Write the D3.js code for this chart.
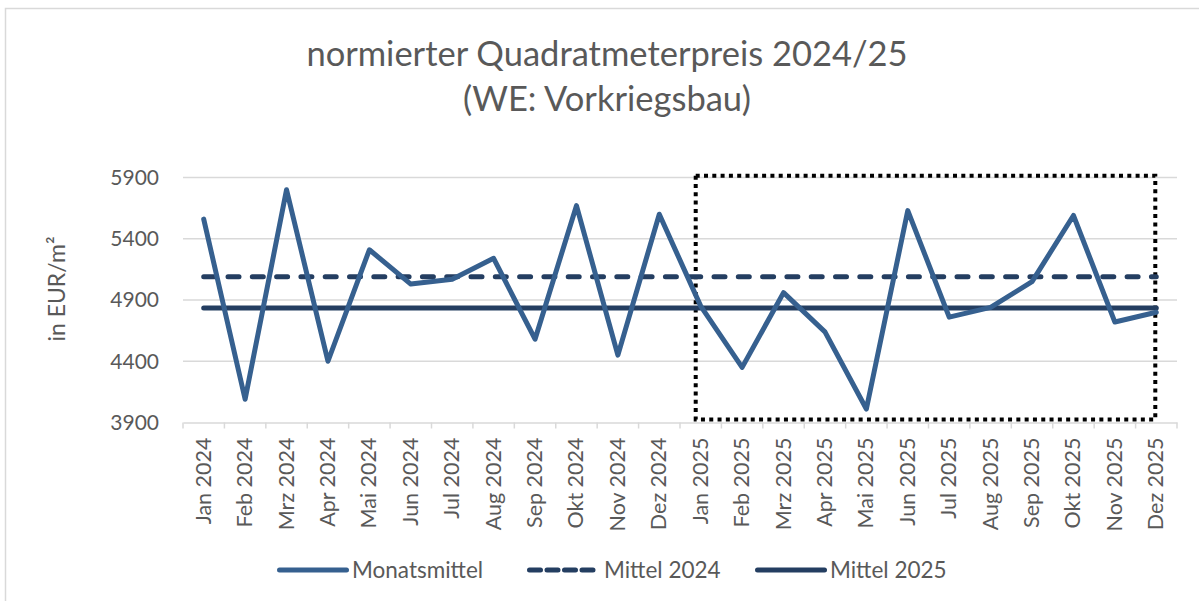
<!DOCTYPE html>
<html>
<head>
<meta charset="utf-8">
<script src="https://cdn.jsdelivr.net/npm/d3@7"></script>
<style>
    body { margin: 0; background: #fff; }
    text { font-family: Lato, "Open Sans", sans-serif; fill: #595959; }
</style>
</head>
<body>
<div class="chart-container"></div>
<script>
// Data
const months = [
    'Jan 2024', 'Feb 2024', 'Mrz 2024', 'Apr 2024', 'Mai 2024', 'Jun 2024',
    'Jul 2024', 'Aug 2024', 'Sep 2024', 'Okt 2024', 'Nov 2024', 'Dez 2024',
    'Jan 2025', 'Feb 2025', 'Mrz 2025', 'Apr 2025', 'Mai 2025', 'Jun 2025',
    'Jul 2025', 'Aug 2025', 'Sep 2025', 'Okt 2025', 'Nov 2025', 'Dez 2025'
];
const monatsmittel = [
    5560, 4090, 5800, 4400, 5310, 5030, 5070, 5240, 4580, 5670, 4450, 5600,
    4850, 4350, 4960, 4640, 4010, 5630, 4760, 4840, 5050, 5590, 4720, 4800
];
const mittel2024 = 5090;
const mittel2025 = 4835;
const yTicks = [3900, 4400, 4900, 5400, 5900];
const highlight = ['Jan 2025', 'Dez 2025', 5915, 3925];

const titleLines = ['normierter Quadratmeterpreis 2024/25', '(WE: Vorkriegsbau)'];
const legendItems = ['Monatsmittel', 'Mittel 2024', 'Mittel 2025'];

function buildChart() {
    const width = 1199;
    const height = 601;
    const margin = {top: 177.5, right: 22, bottom: 178.5, left: 183};

    const lineColor = '#36608f';
    const meanColor = '#243e61';

    const svg = d3
        .select('.chart-container')
        .append('svg')
        .attr('width', width)
        .attr('height', height);

    // Chart frame.
    svg.append('rect')
        .attr('x', 5.5)
        .attr('y', 8.5)
        .attr('width', width)
        .attr('height', height)
        .attr('fill', 'none')
        .attr('stroke', '#d9d9d9')
        .attr('stroke-width', 1.5);

    // Build scales.
    const x = d3.scaleBand()
        .domain(months)
        .range([margin.left, width - margin.right]);

    const y = d3.scaleLinear()
        .domain([3900, 5900])
        .range([height - margin.bottom, margin.top]);

    const cx = d => x(d) + x.bandwidth() / 2;

    // Title.
    svg.append('g')
        .selectAll('text')
        .data(titleLines)
        .join('text')
        .attr('x', 607)
        .attr('y', (d, i) => 66 + i * 45)
        .attr('text-anchor', 'middle')
        .attr('font-size', 34.5)
        .text(d => d);

    // Gridlines.
    svg.append('g')
        .selectAll('line')
        .data(yTicks.slice(1))
        .join('line')
        .attr('x1', margin.left)
        .attr('x2', width - margin.right)
        .attr('y1', d => y(d))
        .attr('y2', d => y(d))
        .attr('stroke', '#d9d9d9')
        .attr('stroke-width', 1.5);

    // Y axis labels.
    svg.append('g')
        .selectAll('text')
        .data(yTicks)
        .join('text')
        .attr('x', 159)
        .attr('y', d => y(d))
        .attr('dy', '0.35em')
        .attr('text-anchor', 'end')
        .attr('font-size', 21)
        .text(d => d);

    svg.append('text')
        .attr('transform', 'translate(65,289) rotate(-90)')
        .attr('text-anchor', 'middle')
        .attr('font-size', 23)
        .text('in EUR/m²');

    // X axis.
    const xAxis = d3.axisBottom(x)
        .tickSize(0)
        .tickFormat('');

    const xAxisG = svg.append('g')
        .attr('transform', `translate(0,${y(3900)})`)
        .call(xAxis);
    xAxisG.select('.domain')
        .attr('stroke', '#d9d9d9')
        .attr('stroke-width', 1.5);

    // tick marks sit between categories
    svg.append('g')
        .selectAll('line')
        .data(months.concat(['end']))
        .join('line')
        .attr('x1', (d, i) => margin.left + i * x.step())
        .attr('x2', (d, i) => margin.left + i * x.step())
        .attr('y1', y(3900))
        .attr('y2', y(3900) + 6)
        .attr('stroke', '#d9d9d9')
        .attr('stroke-width', 1.5);

    svg.append('g')
        .selectAll('text')
        .data(months)
        .join('text')
        .attr('transform', d => `translate(${cx(d) + 7},${y(3900) + 15}) rotate(-90)`)
        .attr('text-anchor', 'end')
        .attr('font-size', 21.5)
        .text(d => d);

    // Highlight box.
    svg.append('rect')
        .attr('x', cx(highlight[0]) - 5)
        .attr('y', y(highlight[2]))
        .attr('width', cx(highlight[1]) - 1 - (cx(highlight[0]) - 5))
        .attr('height', y(highlight[3]) - y(highlight[2]))
        .attr('fill', 'none')
        .attr('stroke', '#000')
        .attr('stroke-width', 4)
        .attr('stroke-dasharray', '4 4.3');

    // Mean lines.
    const first = cx(months[0]);
    const last = cx(months[months.length - 1]);

    svg.append('line')
        .attr('x1', first)
        .attr('x2', last)
        .attr('y1', y(mittel2024))
        .attr('y2', y(mittel2024))
        .attr('stroke', meanColor)
        .attr('stroke-width', 5)
        .attr('stroke-linecap', 'round')
        .attr('stroke-dasharray', '11 13.3');

    svg.append('line')
        .attr('x1', first)
        .attr('x2', last)
        .attr('y1', y(mittel2025))
        .attr('y2', y(mittel2025))
        .attr('stroke', meanColor)
        .attr('stroke-width', 5)
        .attr('stroke-linecap', 'round');

    // Monthly line.
    const lineGenerator = d3.line()
        .x((d, i) => cx(months[i]))
        .y(d => y(d));

    svg.append('path')
        .datum(monatsmittel)
        .attr('d', lineGenerator)
        .attr('fill', 'none')
        .attr('stroke', lineColor)
        .attr('stroke-width', 5)
        .attr('stroke-linejoin', 'round')
        .attr('stroke-linecap', 'round');

    // Legend.
    const legendX = [277, 527, 755];
    const legendY = 570;
    const legendDash = [null, '11 6.5', null];
    const legendColor = [lineColor, meanColor, meanColor];

    const legend = svg.append('g')
        .selectAll('g')
        .data(legendItems)
        .join('g')
        .attr('transform', (d, i) => `translate(${legendX[i]},${legendY})`);

    legend.append('line')
        .attr('x1', 2.5)
        .attr('x2', 69.5)
        .attr('stroke', (d, i) => legendColor[i])
        .attr('stroke-width', 5)
        .attr('stroke-linecap', 'round')
        .attr('stroke-dasharray', (d, i) => legendDash[i]);

    legend.append('text')
        .attr('x', (d, i) => i === 1 ? 77 : 75)
        .attr('dy', '0.35em')
        .attr('font-size', 22.5)
        .text(d => d);
}

buildChart();
</script>
</body>
</html>
